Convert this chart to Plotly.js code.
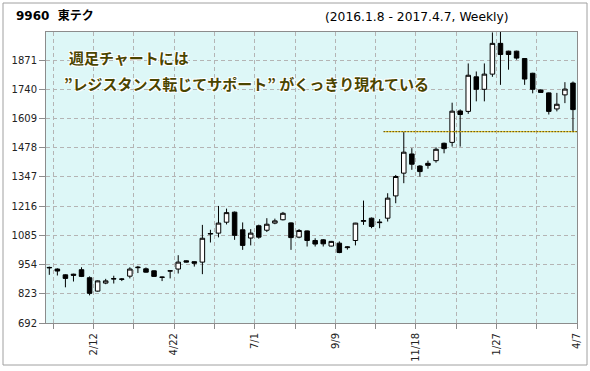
<!DOCTYPE html>
<html>
<head>
<meta charset="utf-8">
<script src="https://cdn.plot.ly/plotly-3.0.1.min.js"></script>
<style>
html,body{margin:0;padding:0;background:#fff;}
#chart{width:590px;height:371px;}
</style>
</head>
<body>
<div id="chart"></div>
<script>
// Weekly candles, 2016.1.8 - 2017.4.7 (66 weeks), index 0..65
const openPrices  = [939,934,908,911,931,895,835,871,889,888,902,940,935,926,898,925,934,971,967,965,
                     1091,1095,1144,1189,1110,1073,1128,1108,1140,1155,1141,1077,1105,1062,1065,1037,1050,1030,1062,1148,
                     1162,1142,1162,1262,1364,1450,1396,1408,1420,1498,1502,1643,1641,1796,1740,1808,1946,1911,1911,1878,
                     1812,1737,1724,1652,1715,1768];
const highPrices  = [945,937,910,913,942,901,883,890,904,893,942,948,941,928,900,928,996,973,968,1132,
                     1110,1217,1205,1192,1143,1113,1133,1162,1160,1190,1143,1113,1107,1072,1068,1060,1058,1036,1141,1241,
                     1165,1158,1274,1356,1550,1476,1400,1420,1480,1501,1680,1650,1856,1820,1856,1995,2000,1913,1913,1880,
                     1814,1740,1726,1724,1772,1775];
const lowPrices   = [908,905,852,878,898,816,833,866,869,880,892,916,918,899,880,892,914,963,945,911,
                     1053,1076,1134,1065,1020,1040,1070,1100,1135,1152,1020,1072,1035,1035,1035,1035,1005,1021,1040,1132,
                     1117,1117,1147,1229,1319,1379,1349,1384,1411,1453,1483,1483,1630,1686,1686,1796,1760,1828,1873,1760,
                     1722,1724,1627,1641,1678,1548];
const closePrices = [941,925,892,906,901,825,881,881,891,889,934,942,920,901,897,926,965,965,960,1072,
                     1093,1140,1187,1085,1040,1095,1077,1135,1150,1184,1075,1107,1062,1046,1047,1058,1008,1033,1140,1151,
                     1125,1144,1252,1349,1458,1404,1371,1399,1471,1474,1642,1627,1803,1740,1808,1946,1896,1896,1880,1786,
                     1740,1726,1641,1673,1741,1649];
const weekIndex = openPrices.map((_, i) => i);

// x tick marks every 5 weeks (at the end of the week slot), labels every 10 weeks
const tickWeeks  = [0,5,10,15,20,25,30,35,40,45,50,55,60,65];
const tickLabels = ['', '2/12', '', '4/22', '', '7/1', '', '9/9', '', '11/18', '', '1/27', '', '4/7'];
const yTicks = [692,823,954,1085,1216,1347,1478,1609,1740,1871];

const resistanceLevel = 1550;
const resistanceStartWeek = 41;

const titleMain = '9960\u00a0\u00a0東テク';
const titleSub = '(2016.1.8 - 2017.4.7, Weekly)';
const note1 = '週足チャートには';
const note2 = '”レジスタンス転じてサポート”\u00a0がくっきり現れている';

const trace = {
  type: 'candlestick',
  x: weekIndex,
  open: openPrices, high: highPrices, low: lowPrices, close: closePrices,
  increasing: {line: {color: '#000000', width: 1}, fillcolor: '#ffffff'},
  decreasing: {line: {color: '#000000', width: 1}, fillcolor: '#000000'},
  whiskerwidth: 0,
  hoverinfo: 'skip',
  showlegend: false
};

const gridColor = '#b4b4b4';
const axisColor = '#8c8c8c';
const tickFont = {family: 'DejaVu Sans, Verdana, sans-serif', size: 10, color: '#222'};
const noteFont = {family: 'Noto Sans CJK JP, sans-serif', size: 15, color: '#4a4500',
                  shadow: '1px 1px 0 #fff, -1px -1px 0 #fff, 1px -1px 0 #fff, -1px 1px 0 #fff'};

const layout = {
  width: 590, height: 371,
  margin: {l: 46, r: 13, t: 32, b: 48, pad: 0},
  paper_bgcolor: '#ffffff',
  plot_bgcolor: '#ddf7f7',
  boxgap: 0.2,
  showlegend: false,
  xaxis: {
    range: [-0.41, 65.5],
    rangeslider: {visible: false},
    tickmode: 'array',
    tickvals: tickWeeks.map(w => w + 0.5),
    ticktext: tickLabels,
    tickangle: -90,
    ticks: 'outside', ticklen: 5, tickcolor: axisColor, tickwidth: 1,
    showgrid: true, gridcolor: gridColor, griddash: '4px,3px', gridwidth: 1,
    showline: true, linecolor: axisColor, linewidth: 1, mirror: true,
    zeroline: false,
    tickfont: tickFont,
    fixedrange: true
  },
  yaxis: {
    range: [692, 1997],
    tickmode: 'array',
    tickvals: yTicks,
    ticktext: yTicks.map(String),
    ticks: 'outside', ticklen: 6, tickcolor: axisColor, tickwidth: 1,
    showgrid: true, gridcolor: gridColor, griddash: '4px,3px', gridwidth: 1,
    showline: true, linecolor: axisColor, linewidth: 1, mirror: true,
    zeroline: false,
    tickfont: tickFont,
    fixedrange: true
  },
  shapes: [
    {type: 'line', xref: 'x', yref: 'y', x0: resistanceStartWeek + 0.5, x1: 65.5,
     y0: resistanceLevel, y1: resistanceLevel, line: {color: '#f2c200', width: 1}},
    {type: 'line', xref: 'x', yref: 'y', x0: resistanceStartWeek + 0.5, x1: 65.5,
     y0: resistanceLevel, y1: resistanceLevel, line: {color: '#000000', width: 1, dash: '1px,2px'}},
    {type: 'rect', xref: 'paper', yref: 'paper',
     x0: (3 - 46) / 531, x1: (587 - 46) / 531, y0: (323 - 365) / 291, y1: (323 - 3) / 291,
     line: {color: '#a0a0a0', width: 1}, fillcolor: 'rgba(0,0,0,0)'}
  ],
  annotations: [
    {text: '<b>' + titleMain + '</b>', xref: 'paper', yref: 'paper',
     x: (14 - 46) / 531, y: (323 - 16) / 291, xanchor: 'left', yanchor: 'middle', showarrow: false,
     font: {family: 'DejaVu Sans, Noto Sans CJK JP, sans-serif', size: 12, color: '#000'}},
    {text: titleSub, xref: 'paper', yref: 'paper',
     x: (323 - 46) / 531, y: (323 - 17) / 291, xanchor: 'left', yanchor: 'middle', showarrow: false,
     font: {family: 'DejaVu Sans, sans-serif', size: 12.3, color: '#000'}},
    {text: '<b>' + note1 + '</b>', xref: 'paper', yref: 'paper',
     x: (67 - 46) / 531, y: (323 - 57) / 291, xanchor: 'left', yanchor: 'middle', showarrow: false,
     font: noteFont},
    {text: '<b>' + note2 + '</b>', xref: 'paper', yref: 'paper',
     x: (62 - 46) / 531, y: (323 - 83) / 291, xanchor: 'left', yanchor: 'middle', showarrow: false,
     font: noteFont}
  ]
};

Plotly.newPlot('chart', [trace], layout, {displayModeBar: false, staticPlot: true});
</script>
</body>
</html>
